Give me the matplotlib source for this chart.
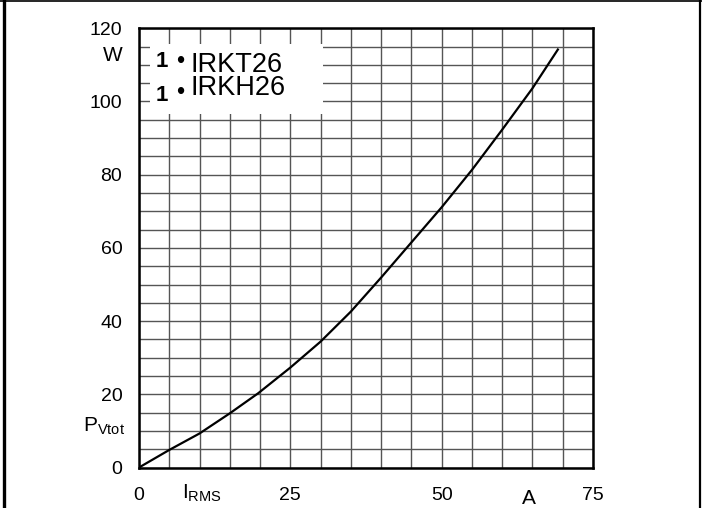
import numpy as np
import matplotlib.pyplot as plt
from matplotlib.lines import Line2D
from matplotlib.patches import Rectangle

plt.rcParams['font.family'] = ['Liberation Sans', 'DejaVu Sans']
plt.rcParams['mathtext.fontset'] = 'custom'
plt.rcParams['mathtext.rm'] = 'Liberation Sans'

# Data (I_RMS in A, P_Vtot in W)
current = [0, 5, 10, 15, 19.7, 25, 30, 35, 40, 45, 50, 55, 60, 65, 69.2]
power = [0, 4.8, 9.3, 14.8, 20.3, 27.3, 34.4, 42.6, 51.9, 61.5, 71.1, 81.3, 92.3, 103.6, 114.2]

x_ticks = [0, 25, 50, 75]
y_ticks = [0, 20, 40, 60, 80, 100, 120]
parts = ["IRKT26", "IRKH26"]

fig = plt.figure(figsize=(7.02, 5.08), dpi=100)
ax = fig.add_axes([0.198, 0.0797, 0.6467, 0.8646])

ax.plot(current, power, color='black', lw=1.6, zorder=3)

ax.set_xlim(0, 75)
ax.set_ylim(0, 120)
ax.set_xticks(x_ticks)
ax.set_yticks(y_ticks)
ax.set_xticks(np.arange(0, 76, 5), minor=True)
ax.set_yticks(np.arange(0, 121, 5), minor=True)
ax.set_axisbelow(True)
ax.grid(which='both', color='#555555', lw=1.0)
ax.tick_params(which='both', length=0, labelsize=14)
ax.tick_params(axis='y', pad=12)
ax.tick_params(axis='x', pad=14)
for sp in ax.spines.values():
    sp.set_linewidth(1.8)

# white box behind the type label
ax.add_patch(Rectangle((0.024, 0.806), 0.381, 0.158, transform=ax.transAxes,
                       facecolor='white', edgecolor='none', zorder=1))
ax.text(0.036, 0.9126, "1", transform=ax.transAxes, fontsize=16,
        fontweight='bold', ha='left', va='baseline', zorder=4)
ax.text(0.036, 0.835, "1", transform=ax.transAxes, fontsize=16,
        fontweight='bold', ha='left', va='baseline', zorder=4)
ax.text(0.0903, 0.910, "•", transform=ax.transAxes, fontsize=17,
        ha='center', va='baseline', zorder=4)
ax.text(0.0903, 0.839, "•", transform=ax.transAxes, fontsize=17,
        ha='center', va='baseline', zorder=4)
ax.text(0.114, 0.848, "\n".join(parts), transform=ax.transAxes,
        fontsize=19.5, linespacing=0.86, ha='left', va='baseline', zorder=4)

# axis unit / symbol labels
ax.text(-0.057, 0.937, "W", transform=ax.transAxes, fontsize=15,
        ha='center', va='center')
ax.text(-0.1227, 0.0815, r"$\mathregular{P_{Vtot}}$", transform=ax.transAxes,
        fontsize=15, ha='left', va='baseline')
ax.text(0.094, -0.070, r"$\mathregular{I_{RMS}}$", transform=ax.transAxes,
        fontsize=15, ha='left', va='baseline')
ax.text(0.859, -0.083, "A", transform=ax.transAxes, fontsize=15,
        ha='center', va='baseline')

# frame around the picture
fig.add_artist(Line2D([0.0057, 0.0057], [0, 1], transform=fig.transFigure,
                      color='black', lw=2.4))
fig.add_artist(Line2D([0, 1], [0.998, 0.998], transform=fig.transFigure,
                      color='black', lw=1.2))
fig.add_artist(Line2D([0.9975, 0.9975], [0, 1], transform=fig.transFigure,
                      color='black', lw=1.6))

fig.savefig("out.png", dpi=100)
